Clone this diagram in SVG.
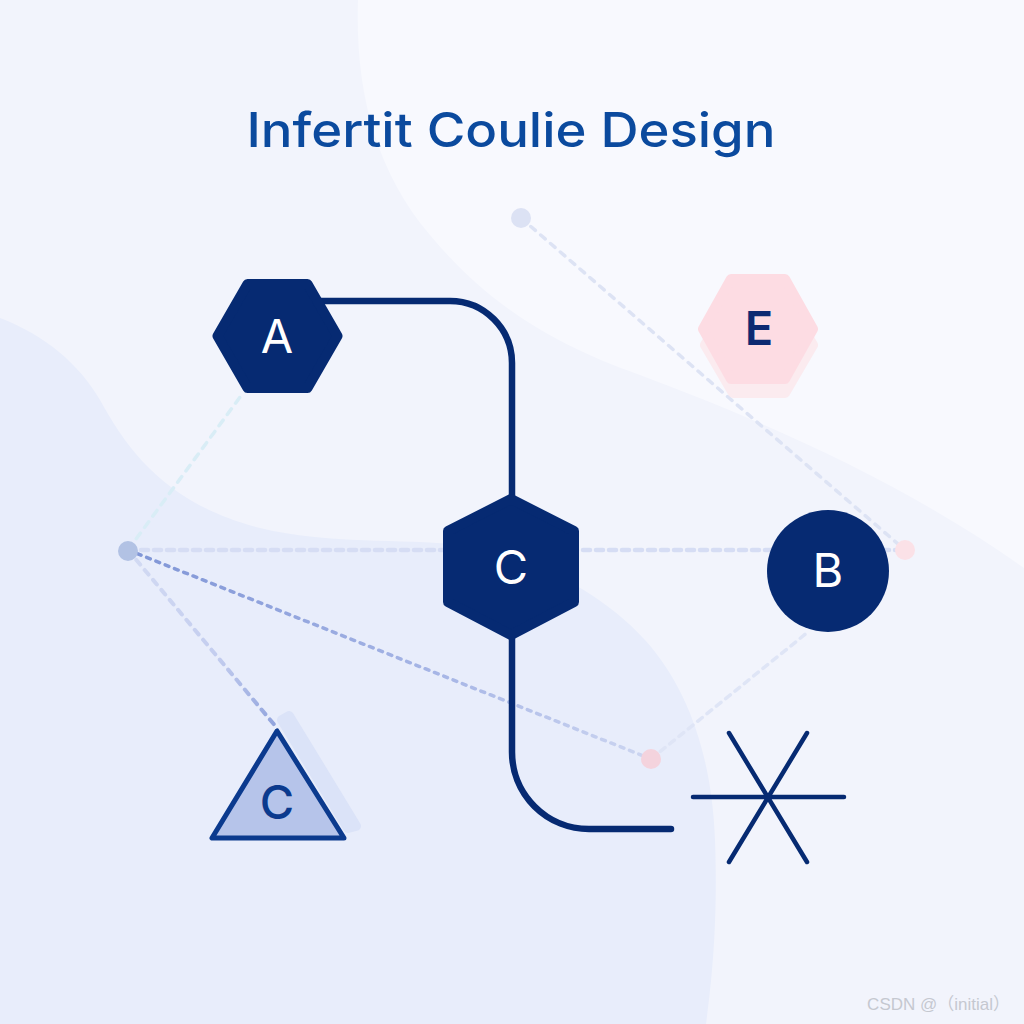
<svg xmlns="http://www.w3.org/2000/svg" width="1024" height="1024" viewBox="0 0 1024 1024">
  <style>
    .navy { fill: #062a72; }
    .hex { fill: #062a72; stroke: #062a72; stroke-width: 10; stroke-linejoin: round; }
    .lbl { font-family: Inter, "Open Sans", "Liberation Sans", sans-serif; font-size: 47px; text-anchor: middle; }
    .white { fill: #ffffff; }
    .wire { fill: none; stroke: #062a72; stroke-width: 6.5; stroke-linecap: round; }
    .dash { fill: none; stroke-linecap: round; }
  </style>
  <defs>
    <linearGradient id="gDiag" gradientUnits="userSpaceOnUse" x1="128" y1="550" x2="651" y2="759">
      <stop offset="0" stop-color="#7f95d6"/>
      <stop offset="0.6" stop-color="#a7b6e6"/>
      <stop offset="1" stop-color="#cdd6f1"/>
    </linearGradient>
    <linearGradient id="gTri" gradientUnits="userSpaceOnUse" x1="128" y1="550" x2="277" y2="728">
      <stop offset="0" stop-color="#d3dbf3"/>
      <stop offset="0.6" stop-color="#c3cdef"/>
      <stop offset="1" stop-color="#8fa2dc"/>
    </linearGradient>
  </defs>

  <!-- background -->
  <rect x="0" y="0" width="1024" height="1024" fill="#f2f4fc"/>
  <path d="M358 0 C355 90 375 170 430 235 C480 295 540 340 640 375 C760 420 900 480 1024 568 L1024 0 Z" fill="#f8f9fe"/>
  <path d="M0 318 C45 335 80 365 100 400 C130 455 170 505 260 528 C330 545 400 538 460 545 C530 556 600 590 645 640 C690 690 712 760 715 840 C718 920 712 980 706 1024 L0 1024 Z" fill="#e8edfb"/>

  <!-- title -->
  <text x="511" y="147" font-family="Inter, 'Open Sans', 'Liberation Sans', sans-serif" font-size="48" font-weight="500" fill="#0b4a9e" text-anchor="middle" textLength="529" lengthAdjust="spacingAndGlyphs">Infertit Coulie Design</text>

  <!-- connectors -->
  <g id="connectors">
    <line class="dash" x1="128" y1="550" x2="905" y2="550" stroke="#d6ddf4" stroke-width="4.5" stroke-dasharray="7 6"/>
    <line class="dash" x1="521" y1="218" x2="905" y2="550" stroke="#dde3f4" stroke-width="3.5" stroke-dasharray="6 7"/>
    <line class="dash" x1="128" y1="550" x2="243" y2="393" stroke="#d9edf6" stroke-width="3.5" stroke-dasharray="7 7"/>
    <line class="dash" x1="128" y1="550" x2="651" y2="759" stroke="url(#gDiag)" stroke-width="3.5" stroke-dasharray="4 6"/>
    <line class="dash" x1="128" y1="550" x2="277" y2="728" stroke="url(#gTri)" stroke-width="4" stroke-dasharray="6 7"/>
    <line class="dash" x1="651" y1="759" x2="808" y2="632" stroke="#dfe5f6" stroke-width="3.5" stroke-dasharray="6 6"/>
    <path class="wire" d="M320 301 H450 A62 62 0 0 1 512 363 V500"/>
    <path class="wire" d="M512 636 V752 A77 77 0 0 0 589 829 H671"/>
    <circle cx="521" cy="218" r="10" fill="#dce2f4"/>
    <circle cx="128" cy="551" r="10" fill="#b2c2e4"/>
    <circle cx="905" cy="550" r="10" fill="#fbe1e7"/>
    <circle cx="651" cy="759" r="10" fill="#f4d3dd"/>
  </g>

  <!-- node A -->
  <g id="node-A">
    <polygon class="hex" points="217.5,336 247.5,284 307.5,284 337.5,336 307.5,388 247.5,388"/>
    <text class="lbl white" x="277" y="353">A</text>
  </g>

  <!-- node C (hex) -->
  <g id="node-C">
    <polygon class="hex" points="511,499 574,531 574,602 511,635 448,602 448,531"/>
    <text class="lbl white" x="511" y="584">C</text>
  </g>

  <!-- node B -->
  <g id="node-B">
    <circle cx="828" cy="571" r="61" class="navy"/>
    <text class="lbl white" x="828" y="587">B</text>
  </g>

  <!-- node E -->
  <g id="node-E">
    <polygon points="705,345 733,297 785,297 813,345 785,393 733,393" fill="#fce9ed" stroke="#fce9ed" stroke-width="10" stroke-linejoin="round" opacity="0.85"/>
    <polygon points="703,329 731,279 785,279 813,329 785,379 731,379" fill="#fddce3" stroke="#fddce3" stroke-width="10" stroke-linejoin="round"/>
    <text class="lbl" x="759" y="345" fill="#0d2a72" font-weight="600">E</text>
  </g>

  <!-- node C (triangle) -->
  <g id="node-C2">
    <polygon points="289,716 356,826 348,828 282,720" fill="#dbe3f8" stroke="#dbe3f8" stroke-width="10" stroke-linejoin="round"/>
    <polygon points="277,731 212,838 344,838" fill="#b6c4ea" stroke="#0b3a8e" stroke-width="5" stroke-linejoin="round"/>
    <text class="lbl" x="277" y="819" fill="#0b3a8e" font-weight="500">C</text>
  </g>

  <!-- asterisk -->
  <g id="node-star" stroke="#062a72" stroke-width="4.5" stroke-linecap="round">
    <line x1="693" y1="797" x2="844" y2="797"/>
    <line x1="729" y1="733" x2="807" y2="862"/>
    <line x1="807" y1="733" x2="729" y2="862"/>
    <circle cx="768" cy="797" r="4" fill="#062a72" stroke="none"/>
  </g>

  <!-- watermark -->
  <text x="1010" y="1010" font-family="'Liberation Sans', 'Noto Sans CJK SC', sans-serif" font-size="17" fill="#c5c8d0" text-anchor="end">CSDN @（initial）</text>
</svg>
